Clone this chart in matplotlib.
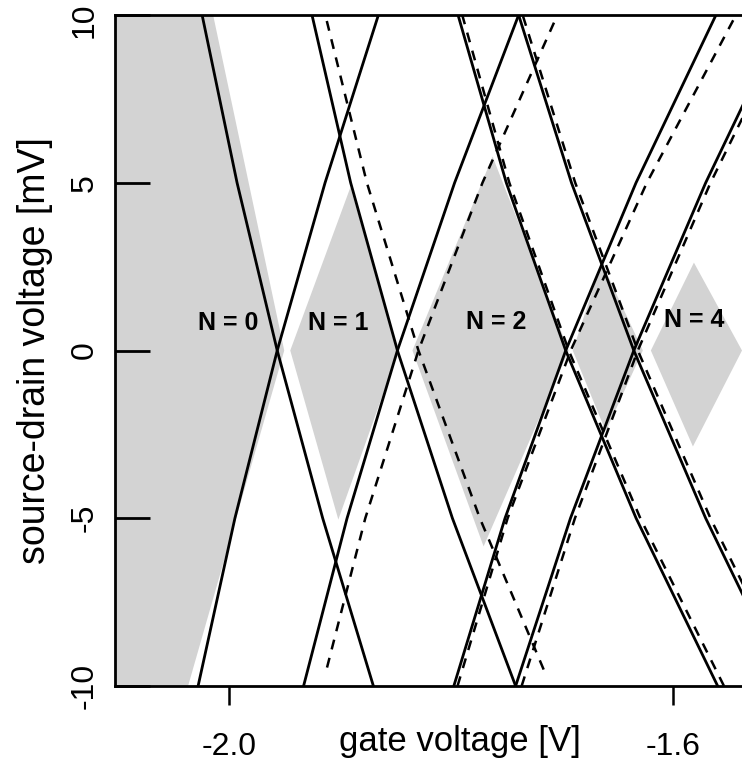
import matplotlib.pyplot as plt
from matplotlib.patches import Polygon
from matplotlib.transforms import ScaledTranslation

# source-drain voltage levels (mV) at which the solid lines are read
vsd_levels = [-10, -5, 0, 5, 10]

# solid lines: gate voltage (V) at Vsd = -10, -5, 0, +5, +10
solid_lines = [
    [-1.86998, -1.91567, -1.95666, -1.99287, -2.02438],
    [-2.02799, -1.99481, -1.95666, -1.91354, -1.86546],
    [-1.74176, -1.79874, -1.84831, -1.89047, -1.92533],
    [-1.93291, -1.89372, -1.84831, -1.79675, -1.73905],
    [-1.55964, -1.63314, -1.69661, -1.75016, -1.79368],
    [-1.79747, -1.75133, -1.69661, -1.63323, -1.56117],
    [-1.49707, -1.57043, -1.63521, -1.69142, -1.73905],
    [-1.74176, -1.69233, -1.63521, -1.57043, -1.49797],
]

# dashed lines: gate voltage (V) and source-drain voltage (mV) of their points
dashed_vg = [
    [-1.71648, -1.77400, -1.82935, -1.87585, -1.91332],
    [-1.91178, -1.87729, -1.82935, -1.77165, -1.70411],
    [-1.55395, -1.62935, -1.69391, -1.74745, -1.78989],
    [-1.79413, -1.74898, -1.69210, -1.62348, -1.54311],
    [-1.49160, -1.56614, -1.63160, -1.68804, -1.73544],
    [-1.73634, -1.68831, -1.63160, -1.56605, -1.49160],
]
dashed_vsd = [
    [-9.51, -5, 0, 5, 10],
    [-9.45, -5, 0, 5, 10],
    [-10, -5, 0, 5, 10],
    [-10, -5, 0, 5, 10],
    [-10, -5, 0, 5, 10],
    [-10, -5, 0, 5, 10],
]

# N = 0 region: right edge at Vsd = +10, 0, -10
n0_edge_vg = [-2.01445, -1.95034, -2.03702]
n0_edge_vsd = [10, 0, -10]

# other blockade diamonds
dia_left = [-1.94492, -1.83476, -1.69029, -1.61986]
dia_right = [-1.84740, -1.69391, -1.62709, -1.53770]
dia_top_vg = [-1.89074, -1.76253, -1.66411, -1.58104]
dia_top_vsd = [4.86, 5.78, 2.62, 2.62]
dia_bot_vg = [-1.90158, -1.77065, -1.66050, -1.58194]
dia_bot_vsd = [-5.04, -5.84, -2.41, -2.86]

labels = ["N = 0", "N = 1", "N = 2", "N = 4"]
label_vg = [-2.0005, -1.9016, -1.7589, -1.5806]
label_vsd = [0.83, 0.83, 0.85, 0.9]

XMIN, XMAX = -2.1029, -1.5377
GRAY = "#d3d3d3"

plt.rcParams["font.family"] = ["Liberation Sans Narrow", "Liberation Sans", "DejaVu Sans"]

fig = plt.figure(figsize=(7.42, 7.73), dpi=100)
ax = fig.add_axes([115 / 742, 87 / 773, 627 / 742, 671 / 773])

# shaded Coulomb blockade regions
n0 = [(XMIN - 0.1, 10)] + list(zip(n0_edge_vg, n0_edge_vsd)) + [(XMIN - 0.1, -10)]
ax.add_patch(Polygon(n0, closed=True, facecolor=GRAY, edgecolor="none", zorder=1))
for i in range(len(dia_left)):
    pts = [(dia_left[i], 0), (dia_top_vg[i], dia_top_vsd[i]),
           (dia_right[i], 0), (dia_bot_vg[i], dia_bot_vsd[i])]
    ax.add_patch(Polygon(pts, closed=True, facecolor=GRAY, edgecolor="none", zorder=1))

for vg in solid_lines:
    ax.plot(vg, vsd_levels, color="black", lw=2.0, solid_joinstyle="round", zorder=3)
for vg, vsd in zip(dashed_vg, dashed_vsd):
    ax.plot(vg, vsd, color="black", lw=1.8, dashes=(4, 3.5), zorder=3)

for txt, x, y in zip(labels, label_vg, label_vsd):
    ax.text(x, y, txt, ha="center", va="center", fontsize=18, fontweight="bold", zorder=4)

ax.set_xlim(XMIN, XMAX)
ax.set_ylim(-10, 10)
ax.set_xticks([-2.0, -1.6])
ax.set_xticklabels(["-2.0", "-1.6"])
ax.set_yticks([-10, -5, 0, 5, 10])
ax.set_yticklabels(["-10", "-5", "0", "5", "10"], rotation=90, va="center")
ax.tick_params(axis="x", direction="out", length=14, width=1.8, pad=19, labelsize=23)
ax.tick_params(axis="y", direction="in", length=25, width=2.0, pad=11, labelsize=23)

# keep the top "10" inside the picture
top_label = ax.get_yticklabels()[-1]
top_label.set_transform(top_label.get_transform()
                        + ScaledTranslation(0, -4 / 72, fig.dpi_scale_trans))

ax.spines["right"].set_visible(False)
for s in ["left", "bottom", "top"]:
    ax.spines[s].set_linewidth(2.0)

ax.set_xlabel("gate voltage [V]", fontsize=25)
ax.xaxis.label.set_va("center")
ax.xaxis.set_label_coords(0.5495, -0.083)
ax.set_ylabel("source-drain voltage [mV]", fontsize=27)
ax.yaxis.label.set_va("center")
ax.yaxis.set_label_coords(-0.128, 0.5)

fig.savefig("out.png", dpi=100)
